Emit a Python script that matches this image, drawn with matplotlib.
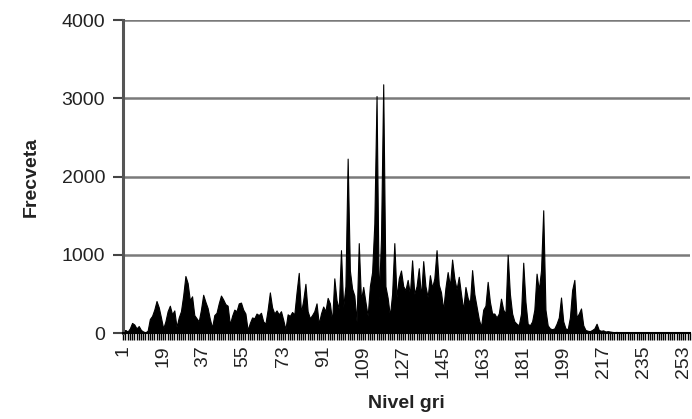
import matplotlib
matplotlib.use("Agg")
import matplotlib.pyplot as plt
import numpy as np

plt.rcParams['font.family'] = ['Liberation Sans', 'DejaVu Sans']

levels = list(range(1, 257))
freq = [
    30, 40, 20, 60, 130, 110, 60, 90, 40, 20,
    10, 30, 180, 220, 300, 410, 330, 200, 60, 150,
    280, 350, 240, 290, 80, 200, 280, 480, 730, 640,
    420, 470, 230, 190, 150, 300, 490, 400, 320, 180,
    70, 230, 260, 380, 480, 430, 370, 350, 110, 220,
    300, 280, 380, 390, 300, 250, 40, 130, 200, 190,
    250, 230, 260, 150, 120, 300, 520, 330, 250, 290,
    240, 280, 170, 50, 240, 220, 270, 240, 520, 770,
    260, 420, 630, 280, 190, 230, 280, 380, 120, 250,
    340, 280, 450, 380, 150, 700, 420, 310, 1060, 330,
    600, 2230, 800, 570, 480, 150, 1150, 420, 590, 400,
    220, 600, 780, 1400, 3030, 420, 1200, 3180, 600, 450,
    220, 500, 1150, 460, 700, 800, 600, 550, 680, 500,
    930, 500, 600, 830, 460, 920, 600, 460, 740, 580,
    700, 1060, 620, 520, 300, 580, 780, 600, 940, 700,
    560, 720, 500, 300, 590, 450, 380, 805, 500, 340,
    180, 80, 300, 350, 655, 400, 250, 250, 200, 250,
    440, 300, 250, 1000, 500, 250, 150, 120, 100, 250,
    900, 400, 120, 100, 150, 300, 760, 550, 800, 1570,
    300, 100, 60, 50, 60, 120, 200, 455, 150, 60,
    50, 200, 550, 680, 200, 250, 315, 100, 40, 30,
    25, 40, 60, 120, 40, 30, 35, 20, 25, 20,
    15, 12, 15, 10, 12, 8, 10, 8, 10, 6,
    8, 6, 8, 5, 6, 5, 6, 5, 5, 4,
    5, 4, 5, 4, 4, 3, 4, 3, 4, 3,
    3, 3, 3, 3, 3, 3,
]
xtick_labels = list(range(1, 257, 18))
yticks = [0, 1000, 2000, 3000, 4000]

fig = plt.figure(figsize=(6.92, 4.19), dpi=100)
ax = fig.add_axes([0.178, 0.205, 0.819, 0.747])

ax.fill_between(levels, freq, 0, color='black', lw=0.8, edgecolor='black')

ax.set_xlim(1, 256)
ax.set_ylim(0, 4000)
ax.set_yticks(yticks)
ax.set_yticklabels([str(v) for v in yticks], fontsize=14, color='#222222')
ax.yaxis.grid(True, color='#7a7a7a', lw=1.8)
ax.set_axisbelow(True)

ax.set_xticks(xtick_labels)
ax.set_xticklabels([str(v) for v in xtick_labels], rotation=90, fontsize=14, color='#222222')
ax.set_xticks(levels, minor=True)
ax.tick_params(axis='x', which='both', length=5, width=1, color='black', direction='out', pad=4)
ax.tick_params(axis='y', length=7, width=1.5, color='#444444', pad=6)

for s in ['top', 'right']:
    ax.spines[s].set_visible(False)
ax.spines['left'].set_color('#555555')
ax.spines['left'].set_linewidth(2.2)
ax.spines['bottom'].set_color('black')
ax.spines['bottom'].set_linewidth(1.5)

ax.set_ylabel('Frecveta', fontsize=14, fontweight='bold', color='#222222', labelpad=16)
ax.set_xlabel('Nivel gri', fontsize=14, fontweight='bold', color='#222222', labelpad=12)

fig.savefig('out.png', dpi=100)
